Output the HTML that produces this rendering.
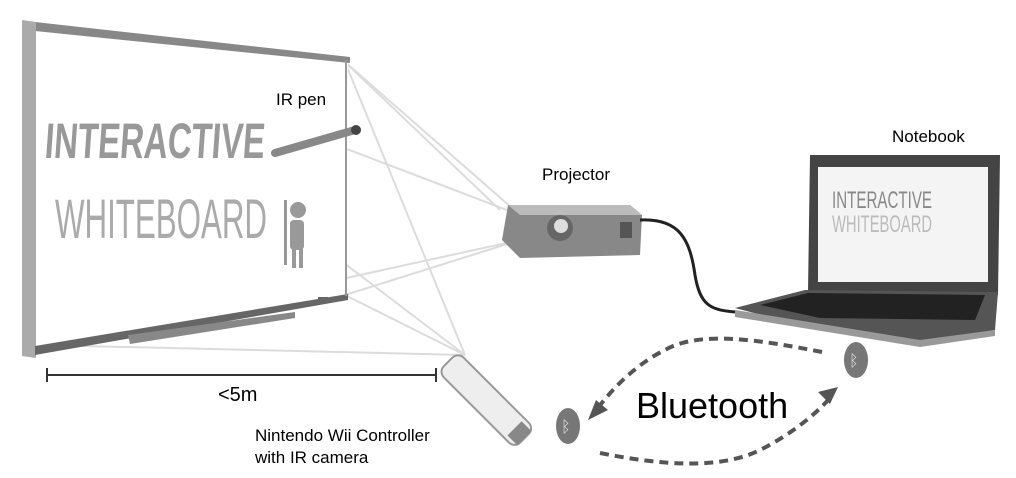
<!DOCTYPE html>
<html><head><meta charset="utf-8"><style>
html,body{margin:0;padding:0;background:#fff;}
svg{display:block;}
text{font-family:"Liberation Sans",Arial,sans-serif;fill:#000;}
</style></head><body>
<svg width="1016" height="478" viewBox="0 0 1016 478" xmlns="http://www.w3.org/2000/svg">
<rect width="1016" height="478" fill="#fff"/>
<g stroke="#dcdcdc" stroke-width="2" fill="none">
<line x1="520" y1="215" x2="40" y2="32"/>
<line x1="520" y1="215" x2="345" y2="62"/>
<line x1="520" y1="240" x2="40" y2="345"/>
<line x1="520" y1="240" x2="345" y2="295"/>
<line x1="465" y1="355" x2="40" y2="32"/>
<line x1="465" y1="355" x2="345" y2="62"/>
<line x1="465" y1="355" x2="345" y2="295"/>
<line x1="465" y1="355" x2="40" y2="345"/>
<line x1="345" y1="62" x2="500" y2="210"/>
</g>
<polygon points="35,28 348,60 346,296 35,352" fill="#fff"/>
<polygon points="35,22 350,57 350,63 35,31" fill="#888"/>
<polygon points="22,20 36,22 36,358 22,356" fill="#aaa"/>
<polygon points="35,346 348,294 348,300 35,355" fill="#666"/>
<line x1="346" y1="60" x2="346" y2="296" stroke="#999" stroke-width="2"/>
<polygon points="128,335 295,312 295,318 130,344" fill="#888"/>
<rect x="318" y="297" width="10" height="6" fill="#666"/>
<text x="55" y="158" font-size="50" style="fill:#999;font-weight:bold" transform="skewX(-4)" textLength="220" lengthAdjust="spacingAndGlyphs">INTERACTIVE</text>
<text x="55" y="238" font-size="56" style="fill:#aaa" textLength="212" lengthAdjust="spacingAndGlyphs">WHITEBOARD</text>
<g fill="#999"><circle cx="298" cy="210" r="8"/><rect x="290" y="220" width="14" height="30" rx="4"/><rect x="284" y="200" width="3" height="65"/><rect x="292" y="248" width="4" height="20"/><rect x="299" y="248" width="4" height="20"/></g>
<line x1="275" y1="153" x2="355" y2="130" stroke="#888" stroke-width="8" stroke-linecap="round"/>
<circle cx="356" cy="130" r="5" fill="#444"/>
<text x="276" y="105" font-size="17">IR pen</text>
<line x1="47" y1="375" x2="436" y2="375" stroke="#333" stroke-width="2"/>
<line x1="47" y1="368" x2="47" y2="382" stroke="#333" stroke-width="2"/>
<line x1="436" y1="368" x2="436" y2="382" stroke="#333" stroke-width="2"/>
<text x="218" y="401" font-size="20">&lt;5m</text>
<g transform="translate(458,352) rotate(45)">
<rect x="0" y="0" width="108" height="28" rx="8" fill="#eee" stroke="#999" stroke-width="2"/>
<rect x="94" y="4" width="14" height="20" fill="#888"/>
</g>
<text x="255" y="441" font-size="17">Nintendo Wii Controller</text>
<text x="255" y="463" font-size="17">with IR camera</text>
<text x="542" y="180" font-size="17">Projector</text>
<polygon points="508,205 630,205 642,215 640,255 520,258 502,240" fill="#888"/>
<polygon points="508,205 630,205 642,215 520,215" fill="#bbb"/>
<circle cx="560" cy="228" r="13" fill="#666"/><circle cx="561" cy="226" r="7" fill="#ddd"/>
<rect x="620" y="222" width="12" height="16" fill="#555"/>
<path d="M640,220 C680,218 690,240 695,275 C700,305 710,310 735,312" stroke="#222" stroke-width="3" fill="none"/>
<text x="892" y="142" font-size="17">Notebook</text>
<polygon points="810,155 1000,155 998,295 808,292" fill="#444"/>
<rect x="818" y="167" width="170" height="115" fill="#f4f4f4"/>
<text x="832" y="208" font-size="24" style="fill:#888" textLength="100" lengthAdjust="spacingAndGlyphs">INTERACTIVE</text>
<text x="832" y="232" font-size="24" style="fill:#bbb" textLength="100" lengthAdjust="spacingAndGlyphs">WHITEBOARD</text>
<polygon points="735,308 805,290 998,292 995,330 920,342 800,325" fill="#555"/>
<polygon points="760,305 808,293 985,295 975,320 820,318" fill="#222"/>
<polygon points="735,310 920,340 995,330 995,336 920,347 735,317" fill="#999"/>
<ellipse cx="568" cy="426" rx="12" ry="18" fill="#777"/>
<text x="561" y="432" font-size="16" style="fill:#ddd">ᛒ</text>
<ellipse cx="856" cy="360" rx="12" ry="18" fill="#777"/>
<text x="849" y="366" font-size="16" style="fill:#ddd">ᛒ</text>
<g stroke="#555" stroke-width="4" fill="none" stroke-dasharray="9,6">
<path d="M822,352 C760,340 700,330 665,350 C640,362 615,385 598,408"/>
<path d="M600,453 C660,465 720,470 760,450 C790,435 815,415 830,398"/>
</g>
<polygon points="588,420 608,410 596,400" fill="#555"/>
<polygon points="838,387 818,392 830,404" fill="#555"/>
<text x="636" y="418" font-size="36">Bluetooth</text>
</svg>
</body></html>
